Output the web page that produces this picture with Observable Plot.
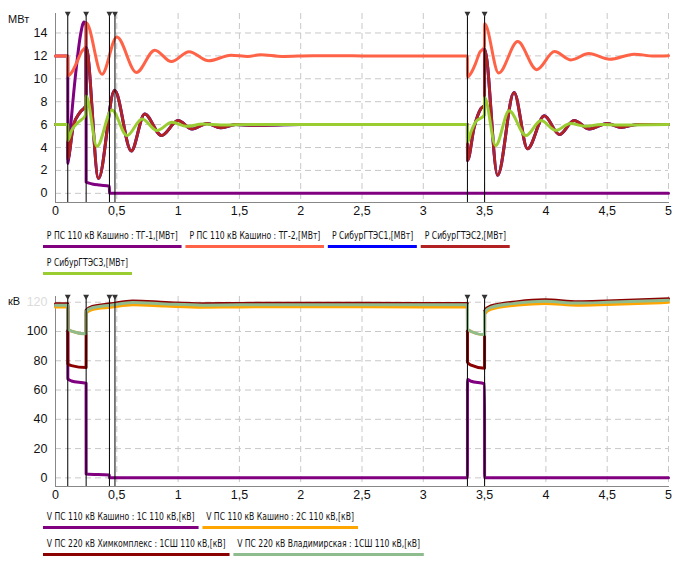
<!DOCTYPE html>
<html><head><meta charset="utf-8">
<script src="https://cdn.jsdelivr.net/npm/d3@7"></script>
<script src="https://cdn.jsdelivr.net/npm/@observablehq/plot@0.6"></script>
<style>
body{margin:0;background:#fff;font-family:"Liberation Sans",Arial,sans-serif;}
#wrap{position:relative;width:677px;overflow:hidden;}
.unit{position:absolute;left:8px;font-size:11px;line-height:13px;color:#111;}
.legbox{width:677px;overflow:hidden;}
.legend{display:flex;flex-wrap:wrap;align-content:flex-start;width:615px;margin-left:43px;column-gap:5px;row-gap:6px;box-sizing:border-box;font-family:"DejaVu Sans Condensed","Liberation Sans",sans-serif;font-size:11px;line-height:13px;color:#111;transform:scaleX(0.774);transform-origin:0 0;}
.legend span{padding:2px 5px 3px 5px;border-bottom:3px solid;white-space:nowrap;}
#leg1box{height:58px;}
#leg1{padding-top:1.5px;}
#leg2box{height:56px;}
svg{display:block;}
</style></head><body>
<div id="wrap">
  <div id="top"></div>
  <div id="leg1box" class="legbox"><div id="leg1" class="legend"></div></div>
  <div id="bot"></div>
  <div id="leg2box" class="legbox"><div id="leg2" class="legend"></div></div>
  <div class="unit" style="top:13px">МВт</div>
  <div class="unit" style="top:295px">кВ</div>
</div>
<script>
// ---- ticks & events ----
const xTicks = [0, 0.5, 1, 1.5, 2, 2.5, 3, 3.5, 4, 4.5, 5];
const mwTicks = [0, 2, 4, 6, 8, 10, 12, 14];
const kvTicks = [0, 20, 40, 60, 80, 100];
const kvGridTicks = [0, 20, 40, 60, 80, 100, 120];
const kvFaintTicks = [120];
const events = [0.1, 0.25, 0.44, 0.485, 3.36, 3.5];

// ---- top chart: power, MW  ([time s, value]) ----
const topNames = ["Р ПС 110 кВ Кашино : ТГ-1,[МВт]", "Р ПС 110 кВ Кашино : ТГ-2,[МВт]", "Р СибурГТЭС1,[МВт]", "Р СибурГТЭС2,[МВт]", "Р СибурГТЭС3,[МВт]"];
const topColors = ["#800080", "#ff6347", "#0000ff", "#b22222", "#9acd32"];

const pTg1 = [[0,12],[0.1,12],[0.1005,2.6],[0.13,6.6],[0.17,11.0],[0.205,13.9],[0.232,14.95],[0.2495,14.6],[0.25,1.0],[0.3,0.82],[0.36,0.72],[0.4395,0.62],[0.44,0],[1,0],[2,0],[3,0],[4,0],[5,0]];
const pTg2 = [[0,12],[0.1,12],[0.1005,10.25],[0.135,10.6],[0.172,11.4],[0.212,12.35],[0.2495,12.9],[0.25,14.9],[0.379,10.4],[0.50,13.65],[0.66,10.55],[0.81,12.5],[0.945,11.5],[1.09,12.37],[1.25,11.57],[1.43,12.06],[1.57,11.95],[1.67,12.1],[1.85,11.95],[2.1,12.02],[2.5,12],[3.0,12],[3.36,12],[3.3605,10.15],[3.39,10.5],[3.425,11.3],[3.46,12.3],[3.4995,12.8],[3.5,14.8],[3.615,10.5],[3.77,13.25],[3.925,10.8],[4.07,12.38],[4.205,11.65],[4.35,12.2],[4.52,11.7],[4.72,12.15],[4.88,11.98],[5,12.02]];
const pGtes2 = [[0,6],[0.1,6],[0.1005,3.0],[0.145,5.9],[0.2,7.07],[0.2495,7.7],[0.25,12.7],[0.351,1.3],[0.482,9.0],[0.618,3.7],[0.727,6.93],[0.864,5.05],[1.0,6.35],[1.114,5.62],[1.237,6.1],[1.345,5.72],[1.47,6.0],[1.6,5.95],[2,6],[3,6],[3.36,6],[3.3605,2.87],[3.415,5.77],[3.47,7.4],[3.4995,7.7],[3.5,12.58],[3.606,1.57],[3.74,8.8],[3.85,3.9],[3.987,6.78],[4.11,5.13],[4.23,6.35],[4.355,5.62],[4.5,6.1],[4.61,5.75],[4.75,6.02],[5,6]];
const pGtes1 = pGtes2.map(p => p.slice());
const pGtes3 = [[0,6],[0.1,6],[0.1005,4.6],[0.131,5.48],[0.185,6.2],[0.2495,6.9],[0.25,8.5],[0.338,4.1],[0.46,7.28],[0.583,5.04],[0.706,6.5],[0.828,5.48],[0.95,6.2],[1.07,5.85],[1.2,6.05],[1.35,5.97],[1.6,6],[2,6],[3,6],[3.36,6],[3.3605,4.46],[3.39,5.4],[3.425,6.2],[3.4995,6.85],[3.5,8.37],[3.59,4.17],[3.70,7.2],[3.837,5.04],[3.96,6.35],[4.08,5.5],[4.2,6.1],[4.32,5.85],[4.45,6.02],[4.6,5.97],[5,6]];
const topValues = [pTg1, pTg2, pGtes1, pGtes2, pGtes3];

// ---- bottom chart: voltage, kV ----
const botNames = ["V ПС 110 кВ Кашино : 1С 110 кВ,[кВ]", "V ПС 110 кВ Кашино : 2С 110 кВ,[кВ]", "V ПС 220 кВ Химкомплекс : 1СШ 110 кВ,[кВ]", "V ПС 220 кВ Владимирская : 1СШ 110 кВ,[кВ]"];
const botColors = ["#800080", "#ffa500", "#8b0000", "#8fbc8f"];

const vKash1 = [[0,117.5],[0.1,117.5],[0.1005,67.7],[0.13,66.2],[0.2495,64.6],[0.25,2.7],[0.4395,2.0],[0.44,0],[1,0],[2,0],[3,0],[3.36,0],[3.3605,67.2],[3.39,66.0],[3.4995,64.2],[3.5,0],[4,0],[5,0]];
const vKash2 = [[0,116.8],[0.1,116.8],[0.1005,101.8],[0.13,100.3],[0.2495,98.4],[0.25,112.6],[0.3,115.0],[0.45,116.6],[0.63,118.3],[0.9,117.4],[1.2,116.6],[1.5,116.8],[2,116.9],[3,116.8],[3.36,116.8],[3.3605,101.8],[3.39,100.0],[3.4995,97.7],[3.5,112.0],[3.55,115.2],[3.77,118.1],[3.99,119.2],[4.26,118.0],[4.5,118.5],[5,119.9]];
const vChem = [[0,118.9],[0.1,118.9],[0.1005,78.0],[0.13,76.7],[0.2495,75.4],[0.25,114.6],[0.3,117.1],[0.45,118.9],[0.63,120.8],[0.9,119.8],[1.2,119.0],[1.5,119.2],[2,119.3],[3,119.2],[3.36,119.2],[3.3605,79.0],[3.39,77.0],[3.4995,74.9],[3.5,114.0],[3.55,117.4],[3.77,120.4],[3.99,121.6],[4.26,120.3],[4.5,120.8],[5,122.3]];
const vVlad = [[0,118.0],[0.1,118.0],[0.1005,101.8],[0.13,100.3],[0.2495,98.4],[0.25,113.8],[0.3,116.2],[0.45,118.0],[0.63,119.8],[0.9,118.8],[1.2,118.0],[1.5,118.2],[2,118.3],[3,118.2],[3.36,118.2],[3.3605,101.8],[3.39,100.0],[3.4995,97.7],[3.5,113.2],[3.55,116.5],[3.77,119.4],[3.99,120.6],[4.26,119.4],[4.5,119.9],[5,121.3]];
const botValues = [vKash1, vKash2, vChem, vVlad];

const fmt = d => String(d).replace(".", ",");

function rowsOf(names, values) {
  return names.flatMap((n, i) => values[i].map(([t, v]) => ({series: n, t, v})));
}

function chart(rows, names, colors, yDomain, yTicks, gridTicks, faintTicks, mb) {
  const marks = [
    Plot.gridX({ticks: xTicks, stroke: "#c8c8c8", strokeOpacity: 1, strokeDasharray: "6,4"}),
    Plot.gridY({ticks: gridTicks, stroke: "#c8c8c8", strokeOpacity: 1, strokeDasharray: "6,4"}),
    Plot.frame({anchor: "left", stroke: "#888"}),
    Plot.frame({anchor: "bottom", stroke: "#888"}),
    Plot.axisX({ticks: xTicks, tickFormat: fmt, tickSize: 0, tickPadding: 4, label: null}),
    Plot.axisY({ticks: yTicks, tickFormat: fmt, tickSize: 0, tickPadding: 8, label: null}),
    Plot.line(rows, {x: "t", y: "v", z: "series", stroke: "series", strokeWidth: 3, curve: "monotone-x"}),
    Plot.ruleX(events, {stroke: "#000", strokeWidth: 1}),
    Plot.dot(events, {x: d => d, frameAnchor: "top", symbol: "triangle", rotate: 180, r: 2.2, fill: "#333", stroke: null})
  ];
  if (faintTicks) marks.push(Plot.axisY({ticks: faintTicks, tickSize: 0, tickPadding: 8, label: null, color: "#dcdcdc"}));
  return Plot.plot({
    width: 677, height: 225,
    marginTop: 13, marginBottom: mb, marginLeft: 55, marginRight: 9,
    style: {fontFamily: "'Liberation Sans', Arial, sans-serif", fontSize: "12.5px", color: "#111", background: "#fff", overflow: "visible"},
    x: {domain: [0, 5]},
    y: {domain: yDomain},
    color: {domain: names, range: colors},
    marks
  });
}

function legend(el, names, colors) {
  names.forEach((n, i) => {
    const s = document.createElement("span");
    s.textContent = n;
    s.style.borderBottomColor = colors[i];
    el.appendChild(s);
  });
}

document.getElementById("top").appendChild(chart(rowsOf(topNames, topValues), topNames, topColors, [-0.8, 15.7], mwTicks, mwTicks, null, 23));
legend(document.getElementById("leg1"), topNames, topColors);
document.getElementById("bot").appendChild(chart(rowsOf(botNames, botValues), botNames, botColors, [-5.9, 123.9], kvTicks, kvGridTicks, kvFaintTicks, 22));
legend(document.getElementById("leg2"), botNames, botColors);
</script>
</body></html>
